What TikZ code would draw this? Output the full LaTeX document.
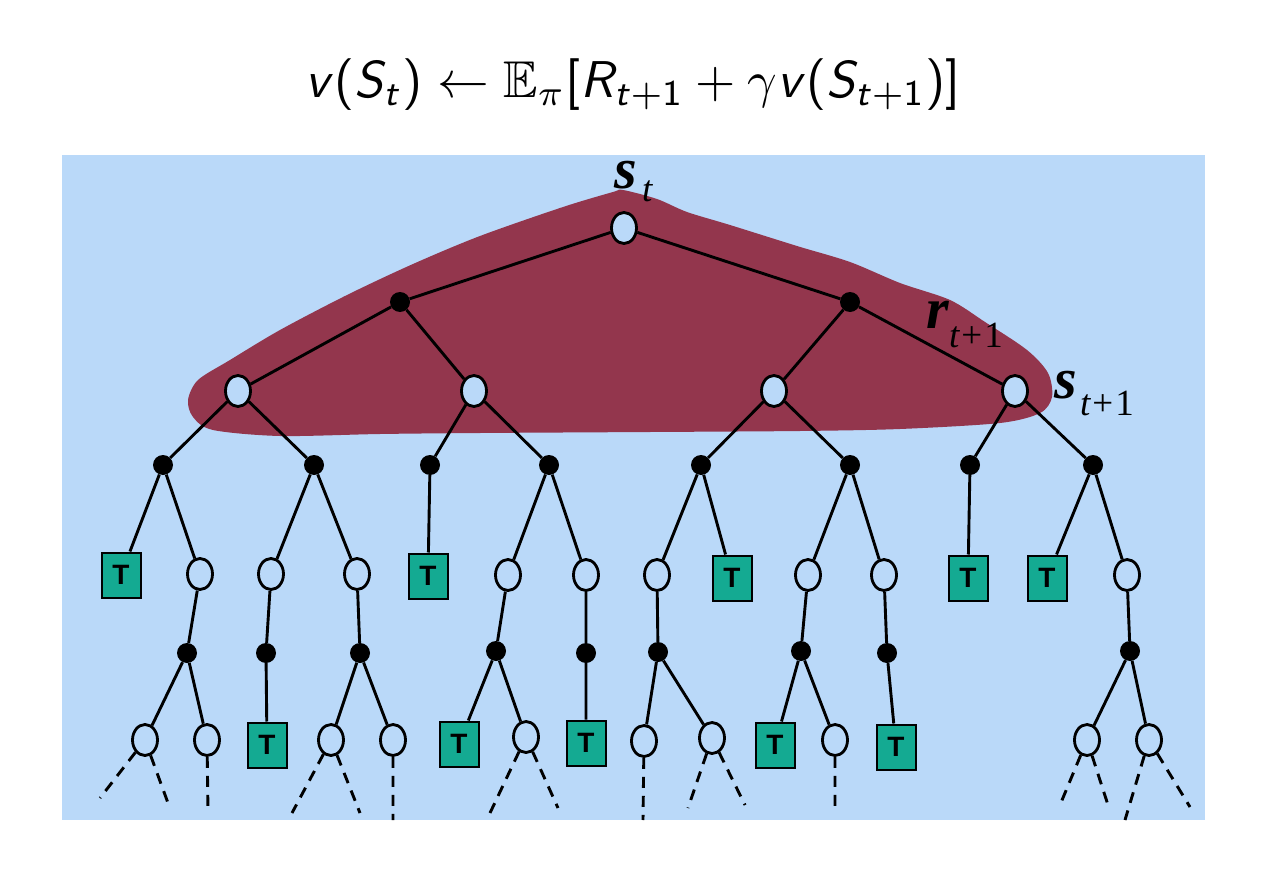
\documentclass[tikz,border=0pt]{standalone}
\usepackage{amssymb}
\usepackage{graphicx}
\usepackage{fontspec}
\usetikzlibrary{shapes.geometric}
\newfontfamily\tms{Liberation Serif}
\newfontfamily\hv{Liberation Sans}
\DeclareMathAlphabet{\msfit}{OT1}{cmss}{m}{sl}
\DeclareMathAlphabet{\msf}{OT1}{cmss}{m}{n}
\newcommand\sfo{\mathopen{\hbox{\sffamily(}}}
\newcommand\sfc{\mathclose{\hbox{\sffamily)}}}
\newcommand\sfbo{\mathopen{\hbox{\sffamily[}}}
\newcommand\sfbc{\mathclose{\hbox{\sffamily]}}}
\definecolor{bgblue}{RGB}{186,217,249}
\definecolor{blob}{RGB}{147,54,77}
\definecolor{tealT}{RGB}{20,170,146}
\tikzset{
  st/.style={ellipse, draw, line width=2.8pt, fill=bgblue, minimum width=25pt, minimum height=31pt, inner sep=0pt},
  act/.style={circle, fill=black, minimum size=20pt, inner sep=0pt},
  term/.style={draw, line width=2pt, fill=tealT, minimum width=39pt, minimum height=45pt, inner sep=0pt, font=\hv\bfseries\fontsize{28}{28}\selectfont},
  edg/.style={line width=2.9pt},
  dsh/.style={line width=2.9pt, dash pattern=on 11pt off 8pt},
  lbl/.style={anchor=base west, inner sep=0pt, font=\tms\bfseries\itshape\fontsize{58}{58}\selectfont},
  sub/.style={anchor=base west, inner sep=0pt, font=\tms\fontsize{37}{37}\selectfont}
}
\begin{document}
\begin{tikzpicture}[x=1pt,y=-1pt]
\fill[white] (0,0) rectangle (1278,880);
\useasboundingbox (0,0) rectangle (1278,880);
\fill[bgblue] (62,155) rectangle (1205,820);

% formula
\node (eq) at (633,85) {\resizebox{655pt}{!}{$\msfit{v}\sfo\msfit{S}_{\msfit{t}}\sfc \leftarrow \mathbb{E}_{\pi}\sfbo\msfit{R}_{\msfit{t}+\msf{1}} + \gamma\msfit{v}\sfo\msfit{S}_{\msfit{t}+\msf{1}}\sfc\sfbc$}};

% blob
\fill[blob] plot[smooth cycle, tension=0.5] coordinates {
 (623,190) (657,199) (687,212) (730,225) (797,246) (850,262) (900,283) (950,300)
 (985,322) (1027,350) (1048,373) (1052,397) (1040,413) (1000,423) (900,429) (800,431)
 (650,432) (480,433) (380,434) (280,436) (213,430) (193,417) (188,400) (198,380)
 (230,360) (280,330) (347,295) (413,264) (480,236) (563,207) (613,192)};

% level 0-2
\node[st] (r0) at (624,228) {};
\node[act] (a1) at (400,302) {};
\node[act] (a2) at (850,302) {};
\node[st] (s1) at (238,391) {};
\node[st] (s2) at (474,391) {};
\node[st] (s3) at (774,391) {};
\node[st] (s4) at (1015,391) {};
% level 3
\node[act] (b1) at (163,465) {};
\node[act] (b2) at (314,465) {};
\node[act] (b3) at (430,465) {};
\node[act] (b4) at (549,465) {};
\node[act] (b5) at (701,465) {};
\node[act] (b6) at (850,465) {};
\node[act] (b7) at (970,465) {};
\node[act] (b8) at (1093,465) {};
% level 4
\node[term] (t1) at (121,575) {T};
\node[st] (c1) at (200,574) {};
\node[st] (c2) at (271,574) {};
\node[st] (c3) at (357,574) {};
\node[term] (t2) at (428,576) {T};
\node[st] (c4) at (508,575) {};
\node[st] (c5) at (586,575) {};
\node[st] (c6) at (657,575) {};
\node[term] (t3) at (732,578) {T};
\node[st] (c7) at (808,575) {};
\node[st] (c8) at (884,575) {};
\node[term] (t4) at (968,578) {T};
\node[term] (t5) at (1047,578) {T};
\node[st] (c9) at (1127,575) {};
% level 5
\node[act] (d1) at (187,653) {};
\node[act] (d2) at (266,653) {};
\node[act] (d3) at (360,653) {};
\node[act] (d4) at (496,651) {};
\node[act] (d5) at (586,653) {};
\node[act] (d6) at (658,652) {};
\node[act] (d7) at (801,651) {};
\node[act] (d8) at (887,653) {};
\node[act] (d9) at (1130,651) {};
% level 6
\node[st] (e1) at (145,740) {};
\node[st] (e2) at (207,740) {};
\node[term] (t6) at (267,745) {T};
\node[st] (e3) at (331,740) {};
\node[st] (e4) at (393,740) {};
\node[term] (t7) at (459,744) {T};
\node[st] (e5) at (526,737) {};
\node[term] (t8) at (586,743) {T};
\node[st] (e6) at (644,741) {};
\node[st] (e7) at (712,738) {};
\node[term] (t9) at (775,745) {T};
\node[st] (e8) at (835,740) {};
\node[term] (t10) at (896,747) {T};
\node[st] (e9) at (1087,740) {};
\node[st] (e10) at (1149,740) {};

% dashed ends
\coordinate (x1) at (100,798); \coordinate (x2) at (168,803);
\coordinate (x3) at (208,812);
\coordinate (x4) at (292,813); \coordinate (x5) at (360,813);
\coordinate (x6) at (393,820);
\coordinate (x7) at (490,813); \coordinate (x8) at (558,808);
\coordinate (x9) at (643,820);
\coordinate (x10) at (688,808); \coordinate (x11) at (745,805);
\coordinate (x12) at (835,808);
\coordinate (x13) at (1060,805); \coordinate (x14) at (1108,805);
\coordinate (x15) at (1125,820); \coordinate (x16) at (1190,807);

% edges
\draw[edg] (r0)--(a1) (r0)--(a2);
\draw[edg] (a1)--(s1) (a1)--(s2) (a2)--(s3) (a2)--(s4);
\draw[edg] (s1)--(b1) (s1)--(b2) (s2)--(b3) (s2)--(b4)
           (s3)--(b5) (s3)--(b6) (s4)--(b7) (s4)--(b8);
\draw[edg] (b1)--(t1) (b1)--(c1) (b2)--(c2) (b2)--(c3) (b3)--(t2)
           (b4)--(c4) (b4)--(c5) (b5)--(c6) (b5)--(t3) (b6)--(c7) (b6)--(c8)
           (b7)--(t4) (b8)--(t5) (b8)--(c9);
\draw[edg] (c1)--(d1) (c2)--(d2) (c3)--(d3) (c4)--(d4) (c5)--(d5)
           (c6)--(d6) (c7)--(d7) (c8)--(d8) (c9)--(d9);
\draw[edg] (d1)--(e1) (d1)--(e2) (d2)--(t6) (d3)--(e3) (d3)--(e4)
           (d4)--(t7) (d4)--(e5) (d5)--(t8) (d6)--(e6) (d6)--(e7)
           (d7)--(t9) (d7)--(e8) (d8)--(t10) (d9)--(e9) (d9)--(e10);
\draw[dsh] (e1)--(x1) (e1)--(x2) (e2)--(x3) (e3)--(x4) (e3)--(x5) (e4)--(x6)
           (e5)--(x7) (e5)--(x8) (e6)--(x9) (e7)--(x10) (e7)--(x11) (e8)--(x12)
           (e9)--(x13) (e9)--(x14) (e10)--(x15) (e10)--(x16);

% labels
\node[lbl] (ls) at (614,189) {s};
\node[sub] (lst) at (642,201) {\itshape t};
\node[lbl] (lr) at (926,328) {r};
\node[sub] (lrt) at (949,347) {{\itshape t}\kern2pt+\kern2pt1};
\node[lbl] (ls1) at (1054,398) {s};
\node[sub] (ls1t) at (1080,415) {{\itshape t}\kern2pt+\kern2pt1};
\end{tikzpicture}
\end{document}
